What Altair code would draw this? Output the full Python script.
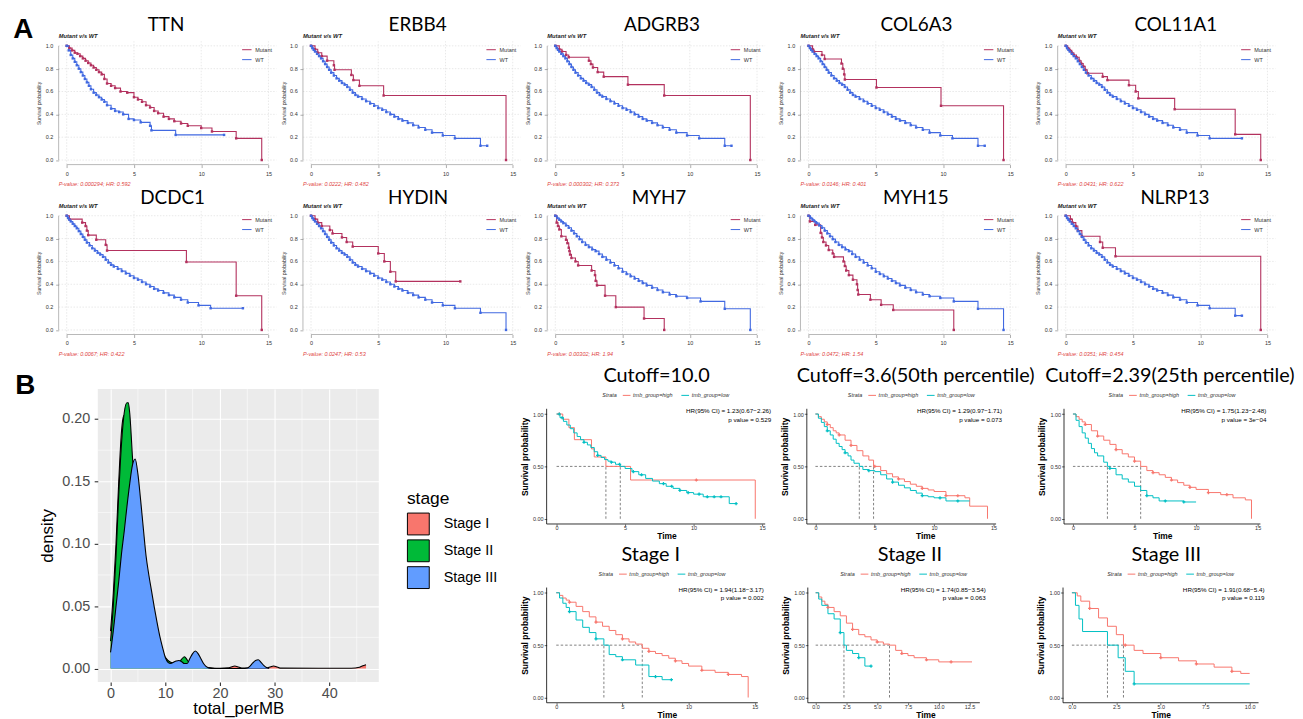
import altair as alt
import pandas as pd

FONT = "Liberation Sans"
TITLE_FONT = "Lato"
MUT_COLOR = "#B3315E"
WT_COLOR = "#4169E1"
PV_COLOR = "#E0453F"
HIGH_COLOR = "#F8766D"
LOW_COLOR = "#00BFC4"

# ---------------- Panel A data ----------------
GENES = ["TTN", "ERBB4", "ADGRB3", "COL6A3", "COL11A1",
         "DCDC1", "HYDIN", "MYH7", "MYH15", "NLRP13"]
PVALUE_TEXT = ["P-value: 0.000294; HR: 0.592", "P-value: 0.0222; HR: 0.482",
               "P-value: 0.000302; HR: 0.373", "P-value: 0.0146; HR: 0.401",
               "P-value: 0.0431; HR: 0.622", "P-value: 0.0067; HR: 0.422",
               "P-value: 0.0247; HR: 0.53", "P-value: 0.00302; HR: 1.94",
               "P-value: 0.0472; HR: 1.54", "P-value: 0.0351; HR: 0.454"]
SUBTITLE = "Mutant v/s WT"
A_X_TICKS = [0, 5, 10, 15]
A_Y_TICKS = [0, 0.2, 0.4, 0.6, 0.8, 1.0]
A_Y_LABELS = ["0.0", "0.2", "0.4", "0.6", "0.8", "1.0"]

WT_BASE_T = [0, 0.1, 0.2, 0.3, 0.45, 0.6, 0.75, 0.9, 1.05, 1.2, 1.35, 1.5, 1.7, 1.9, 2.1,
             2.3, 2.5, 2.7, 2.9, 3.1, 3.3, 3.5, 3.8, 4.1, 4.4, 4.7, 5.0, 5.3, 5.6, 5.9,
             6.2, 6.5, 6.8, 7.2, 7.6, 8.0, 8.5, 9.0, 9.8, 10.7]
WT_BASE_S = [1.0, 0.98, 0.965, 0.95, 0.93, 0.91, 0.89, 0.865, 0.84, 0.815, 0.79, 0.765, 0.74,
             0.715, 0.695, 0.675, 0.66, 0.64, 0.615, 0.59, 0.57, 0.555, 0.535, 0.515, 0.495,
             0.475, 0.455, 0.44, 0.42, 0.40, 0.38, 0.36, 0.345, 0.325, 0.305, 0.285, 0.265,
             0.24, 0.215, 0.19]
WT_TAIL_A_T, WT_TAIL_A_S = [12.6, 13.1], [0.125, 0.125]
WT_TAIL_B_T, WT_TAIL_B_S = [13.1], [0.19]
WT_TAIL_C_T, WT_TAIL_C_S = [12.6, 14.5], [0.15, 0.0]

TTN_WT_T = [0, 0.15, 0.3, 0.45, 0.6, 0.75, 0.9, 1.05, 1.2, 1.35, 1.5, 1.65, 1.8, 2.0, 2.2,
            2.4, 2.6, 2.8, 3.0, 3.3, 3.6, 3.9, 4.2, 4.6, 5.0, 5.5, 6.2, 6.3, 8.1, 11.7]
TTN_WT_S = [1.0, 0.96, 0.92, 0.89, 0.86, 0.83, 0.80, 0.77, 0.74, 0.71, 0.68, 0.65, 0.62, 0.59,
            0.57, 0.55, 0.53, 0.51, 0.48, 0.45, 0.43, 0.42, 0.40, 0.36, 0.35, 0.33, 0.30,
            0.26, 0.22, 0.22]
MYH_WT_T = [0, 0.15, 0.3, 0.45, 0.6, 0.8, 1.0, 1.2, 1.4, 1.6, 1.8, 2.0, 2.25, 2.5, 2.75, 3.0,
            3.25, 3.5, 3.8, 4.1, 4.4, 4.7, 5.0, 5.3, 5.6, 5.9, 6.2, 6.5, 6.8, 7.2, 7.6, 8.0,
            8.5, 9.0, 9.8, 10.8, 12.6, 14.5]
MYH_WT_S = [1.0, 0.98, 0.965, 0.95, 0.935, 0.915, 0.895, 0.87, 0.845, 0.82, 0.795, 0.77,
            0.745, 0.725, 0.705, 0.69, 0.665, 0.64, 0.615, 0.59, 0.565, 0.54, 0.51, 0.49,
            0.47, 0.45, 0.43, 0.41, 0.39, 0.37, 0.35, 0.33, 0.31, 0.295, 0.28, 0.25, 0.185, 0.0]

TTN_MUT_T = [0, 0.2, 0.4, 0.6, 0.8, 1.0, 1.2, 1.4, 1.6, 1.8, 2.0, 2.2, 2.4, 2.6, 2.8, 3.0,
             3.3, 3.6, 4.0, 4.5, 5.0, 5.3, 5.6, 5.9, 6.2, 6.5, 6.8, 7.2, 7.6, 8.0, 8.5, 9.0,
             10.0, 10.8, 12.6, 14.5]
TTN_MUT_S = [1.0, 0.98, 0.96, 0.94, 0.93, 0.91, 0.89, 0.87, 0.85, 0.83, 0.81, 0.79, 0.77,
             0.75, 0.71, 0.67, 0.65, 0.63, 0.60, 0.59, 0.55, 0.53, 0.51, 0.48, 0.46, 0.43,
             0.41, 0.38, 0.36, 0.34, 0.32, 0.30, 0.28, 0.25, 0.19, 0.0]
ERBB4_MUT_T = [0, 0.3, 0.5, 0.8, 1.2, 1.7, 1.75, 3.0, 3.15, 3.6, 5.4, 14.5]
ERBB4_MUT_S = [1.0, 0.97, 0.94, 0.91, 0.87, 0.83, 0.79, 0.745, 0.70, 0.65, 0.565, 0.0]
ADGRB3_MUT_T = [0, 0.3, 0.5, 0.8, 1.0, 2.5, 2.65, 2.8, 3.15, 3.6, 5.4, 8.1, 14.5]
ADGRB3_MUT_S = [1.0, 0.97, 0.95, 0.92, 0.90, 0.87, 0.84, 0.81, 0.77, 0.73, 0.66, 0.565, 0.0]
COL6A3_MUT_T = [0, 0.3, 0.4, 1.0, 1.2, 2.45, 2.55, 2.65, 2.7, 5.05, 9.85, 14.5]
COL6A3_MUT_S = [1.0, 0.97, 0.95, 0.92, 0.885, 0.845, 0.80, 0.75, 0.705, 0.635, 0.475, 0.0]
COL11A1_MUT_T = [0, 0.15, 0.3, 0.45, 0.6, 0.8, 1.0, 1.15, 1.3, 1.45, 1.6, 2.75, 3.1, 4.7,
                 5.2, 5.4, 8.1, 12.6, 14.5]
COL11A1_MUT_S = [1.0, 0.98, 0.96, 0.94, 0.92, 0.90, 0.87, 0.845, 0.82, 0.79, 0.76, 0.73,
                 0.70, 0.655, 0.60, 0.54, 0.445, 0.225, 0.0]
DCDC1_MUT_T = [0, 0.2, 1.15, 1.4, 1.5, 1.6, 2.2, 2.9, 3.0, 8.9, 12.6, 14.5]
DCDC1_MUT_S = [1.0, 0.97, 0.94, 0.91, 0.87, 0.83, 0.79, 0.745, 0.695, 0.595, 0.30, 0.0]
HYDIN_MUT_T = [0, 0.3, 0.5, 0.8, 1.4, 1.6, 2.3, 2.65, 3.1, 5.0, 5.45, 5.9, 6.3, 11.1]
HYDIN_MUT_S = [1.0, 0.97, 0.94, 0.91, 0.875, 0.845, 0.81, 0.77, 0.73, 0.67, 0.60, 0.51,
               0.425, 0.425]
MYH7_MUT_T = [0, 0.1, 0.2, 0.3, 0.45, 0.8, 0.9, 1.0, 1.05, 1.1, 1.2, 1.5, 1.7, 2.7, 2.95,
              3.0, 3.1, 3.7, 4.5, 6.6, 8.1]
MYH7_MUT_S = [1.0, 0.94, 0.91, 0.88, 0.82, 0.79, 0.76, 0.72, 0.69, 0.66, 0.63, 0.60, 0.565,
              0.52, 0.48, 0.43, 0.39, 0.30, 0.20, 0.10, 0.0]
MYH15_MUT_T = [0, 0.1, 0.5, 0.9, 1.0, 1.1, 1.3, 1.5, 1.8, 1.9, 2.6, 2.7, 2.8, 3.0, 3.3, 3.6,
               3.65, 3.7, 4.6, 5.4, 6.3, 10.8]
MYH15_MUT_S = [1.0, 0.95, 0.92, 0.85, 0.81, 0.77, 0.74, 0.70, 0.67, 0.64, 0.60, 0.56, 0.52,
               0.48, 0.44, 0.40, 0.35, 0.31, 0.265, 0.22, 0.175, 0.0]
NLRP13_MUT_T = [0, 0.35, 0.5, 0.75, 0.9, 1.2, 2.55, 2.75, 3.7, 14.5]
NLRP13_MUT_S = [1.0, 0.97, 0.94, 0.91, 0.87, 0.82, 0.77, 0.72, 0.645, 0.0]

MUT_T = [TTN_MUT_T, ERBB4_MUT_T, ADGRB3_MUT_T, COL6A3_MUT_T, COL11A1_MUT_T,
         DCDC1_MUT_T, HYDIN_MUT_T, MYH7_MUT_T, MYH15_MUT_T, NLRP13_MUT_T]
MUT_S = [TTN_MUT_S, ERBB4_MUT_S, ADGRB3_MUT_S, COL6A3_MUT_S, COL11A1_MUT_S,
         DCDC1_MUT_S, HYDIN_MUT_S, MYH7_MUT_S, MYH15_MUT_S, NLRP13_MUT_S]
WT_T = [TTN_WT_T, WT_BASE_T + WT_TAIL_A_T, WT_BASE_T + WT_TAIL_A_T, WT_BASE_T + WT_TAIL_A_T,
        WT_BASE_T + WT_TAIL_B_T, WT_BASE_T + WT_TAIL_B_T, WT_BASE_T + WT_TAIL_C_T,
        MYH_WT_T, MYH_WT_T, WT_BASE_T + WT_TAIL_A_T]
WT_S = [TTN_WT_S, WT_BASE_S + WT_TAIL_A_S, WT_BASE_S + WT_TAIL_A_S, WT_BASE_S + WT_TAIL_A_S,
        WT_BASE_S + WT_TAIL_B_S, WT_BASE_S + WT_TAIL_B_S, WT_BASE_S + WT_TAIL_C_S,
        MYH_WT_S, MYH_WT_S, WT_BASE_S + WT_TAIL_A_S]

# ---------------- Panel B density data ----------------
STAGES = ["Stage I", "Stage II", "Stage III"]
STAGE_COLORS = ["#F8766D", "#00BA38", "#619CFF"]
S1_X = [0, 0.5, 1, 1.5, 2, 2.25, 2.5, 2.75, 3, 3.5, 4, 5, 6, 7, 8, 9, 10, 11, 12, 14, 16,
        18, 20, 21.5, 22.2, 22.7, 23.2, 24, 28.5, 29.3, 29.8, 30.3, 31, 44, 45.5, 46, 46.7]
S1_Y = [0.03, 0.06, 0.10, 0.15, 0.19, 0.20, 0.203, 0.198, 0.185, 0.16, 0.13, 0.09, 0.06,
        0.04, 0.025, 0.015, 0.008, 0.004, 0.002, 0.001, 0.001, 0.0005, 0.0002, 0.0005,
        0.0015, 0.002, 0.0015, 0.0003, 0.0003, 0.0015, 0.002, 0.0015, 0.0003, 0.0002,
        0.001, 0.002, 0.003]
S2_X = [0, 0.5, 1, 1.5, 2, 2.5, 3, 3.25, 3.5, 4, 4.5, 5, 6, 7, 8, 9, 10, 10.5, 11, 11.5,
        12, 12.5, 13, 13.5, 14, 14.5, 15, 16, 17, 18, 19]
S2_Y = [0.022, 0.05, 0.09, 0.14, 0.18, 0.205, 0.213, 0.213, 0.205, 0.17, 0.135, 0.105,
        0.065, 0.04, 0.025, 0.015, 0.009, 0.0065, 0.005, 0.0045, 0.0045, 0.005, 0.0075,
        0.0095, 0.007, 0.004, 0.0025, 0.0015, 0.0015, 0.0005, 0.0]
S3_X = [0, 0.5, 1, 1.5, 2, 2.5, 3, 3.5, 4, 4.5, 5, 5.5, 6, 6.5, 7, 7.5, 8, 8.5, 9, 9.5, 10,
        10.5, 11, 11.5, 12, 12.5, 13, 13.5, 14, 14.5, 15, 15.5, 16, 16.5, 17, 17.5, 18, 19,
        24, 25, 25.5, 26, 26.5, 27, 27.5, 28, 28.5, 29]
S3_Y = [0.013, 0.03, 0.05, 0.07, 0.092, 0.11, 0.13, 0.148, 0.163, 0.168, 0.156, 0.135,
        0.112, 0.09, 0.075, 0.062, 0.049, 0.037, 0.026, 0.017, 0.009, 0.005, 0.004, 0.005,
        0.006, 0.0065, 0.0055, 0.004, 0.004, 0.008, 0.012, 0.014, 0.012, 0.008, 0.004,
        0.0015, 0.0005, 0.0, 0.0, 0.0005, 0.002, 0.0045, 0.0065, 0.007, 0.005, 0.0025,
        0.0008, 0.0]
D_X_TICKS = [0, 10, 20, 30, 40]
D_Y_TICKS = [0, 0.05, 0.10, 0.15, 0.20]
D_X_MINOR = [5, 15, 25, 35, 45]
D_Y_MINOR = [0.025, 0.075, 0.125, 0.175]

# ---------------- Panel B KM data ----------------
STRATA = ["tmb_group=high", "tmb_group=low"]
KM_TITLES = ["Cutoff=10.0", "Cutoff=3.6(50th percentile)", "Cutoff=2.39(25th percentile)",
             "Stage I", "Stage II", "Stage III"]
KM_HR = ["HR(95% CI) = 1.23(0.67\u22122.26)", "HR(95% CI) = 1.29(0.97\u22121.71)",
         "HR(95% CI) = 1.75(1.23\u22122.48)", "HR(95% CI) = 1.94(1.18\u22123.17)",
         "HR(95% CI) = 1.74(0.85\u22123.54)", "HR(95% CI) = 1.91(0.68\u22125.4)"]
KM_P = ["p value = 0.529", "p value = 0.073", "p value = 3e\u221204",
        "p value = 0.002", "p value = 0.063", "p value = 0.119"]
KM_XMAX = [14.5, 14.5, 14.5, 14.5, 12.7, 10.0]
KM_XTICKS = [[0, 5, 10, 15], [0, 5, 10, 15], [0, 5, 10, 15], [0, 5, 10, 15],
             [0, 2.5, 5, 7.5, 10, 12.5], [0, 2.5, 5, 7.5, 10]]
KM_XFMT = ["d", "d", "d", "d", ".1f", ".1f"]

KM1_HIGH_T = [0, 0.45, 0.9, 1.3, 2.55, 2.75, 3.6, 5.4, 14.5]
KM1_HIGH_S = [1.0, 0.95, 0.87, 0.755, 0.667, 0.59, 0.50, 0.37, 0.0]
KM1_LOW_T = [0, 0.25, 0.5, 0.75, 1, 1.25, 1.5, 1.75, 2, 2.25, 2.5, 2.75, 3, 3.25, 3.5, 3.75,
             4, 4.3, 4.65, 5, 5.5, 6, 6.5, 7, 7.5, 8, 8.5, 9, 9.5, 10, 10.7, 12.6, 13.1]
KM1_LOW_S = [1.0, 0.965, 0.93, 0.895, 0.86, 0.82, 0.785, 0.755, 0.73, 0.705, 0.68, 0.64,
             0.605, 0.585, 0.565, 0.55, 0.54, 0.52, 0.50, 0.48, 0.45, 0.42, 0.385, 0.36,
             0.335, 0.31, 0.29, 0.27, 0.25, 0.235, 0.21, 0.145, 0.145]
KM2_HIGH_T = [0, 0.25, 0.5, 0.75, 1, 1.25, 1.5, 1.75, 2, 2.5, 3, 3.5, 4, 4.5, 4.9, 5.5, 6,
              6.5, 7, 7.5, 8, 8.5, 9, 9.5, 10, 11, 12.6, 13.0, 14.5]
KM2_HIGH_S = [1.0, 0.975, 0.95, 0.925, 0.90, 0.87, 0.84, 0.82, 0.80, 0.75, 0.70, 0.65, 0.60,
              0.56, 0.50, 0.46, 0.43, 0.40, 0.38, 0.355, 0.33, 0.31, 0.29, 0.275, 0.26,
              0.22, 0.20, 0.12, 0.0]
KM2_LOW_T = [0, 0.25, 0.5, 0.75, 1, 1.25, 1.5, 1.75, 2, 2.25, 2.5, 2.75, 3, 3.25, 3.7, 4,
             4.5, 5, 5.5, 6, 6.5, 7, 7.5, 8, 8.5, 9, 9.5, 10, 11, 13.0]
KM2_LOW_S = [1.0, 0.96, 0.92, 0.88, 0.84, 0.80, 0.76, 0.72, 0.69, 0.66, 0.63, 0.60, 0.56,
             0.53, 0.50, 0.47, 0.46, 0.45, 0.42, 0.38, 0.35, 0.32, 0.295, 0.27, 0.245, 0.22,
             0.21, 0.20, 0.17, 0.17]
KM3_HIGH_T = [0, 0.25, 0.5, 0.75, 1, 1.5, 2, 2.5, 3, 3.5, 4, 4.5, 5, 5.5, 6, 6.5, 7, 7.5, 8,
              8.5, 9, 9.5, 10, 11, 12, 13, 14, 14.5]
KM3_HIGH_S = [1.0, 0.975, 0.95, 0.925, 0.90, 0.84, 0.79, 0.75, 0.71, 0.66, 0.62, 0.59, 0.55,
              0.50, 0.46, 0.44, 0.42, 0.395, 0.37, 0.345, 0.32, 0.30, 0.28, 0.25, 0.23, 0.20,
              0.18, 0.0]
KM3_LOW_T = [0, 0.25, 0.5, 0.75, 1, 1.25, 1.5, 1.75, 2, 2.5, 2.8, 3, 3.5, 4, 4.5, 5, 5.5, 6,
             6.5, 7, 9, 10]
KM3_LOW_S = [1.0, 0.94, 0.88, 0.82, 0.77, 0.72, 0.67, 0.63, 0.60, 0.54, 0.50, 0.48, 0.42,
             0.38, 0.35, 0.31, 0.27, 0.22, 0.20, 0.17, 0.16, 0.16]
KM4_HIGH_T = [0, 0.25, 0.5, 0.75, 1, 1.5, 2, 2.5, 3, 3.5, 4, 4.5, 5, 5.5, 6, 6.5, 7, 7.5, 8,
              8.5, 9, 9.5, 10, 11, 12, 13, 14, 14.5]
KM4_HIGH_S = [1.0, 0.975, 0.95, 0.93, 0.91, 0.87, 0.82, 0.77, 0.72, 0.68, 0.64, 0.60, 0.56,
              0.53, 0.51, 0.47, 0.44, 0.42, 0.40, 0.375, 0.35, 0.325, 0.30, 0.26, 0.24, 0.22,
              0.20, 0.0]
KM4_LOW_T = [0, 0.25, 0.5, 0.75, 1, 1.5, 2, 2.5, 3, 3.6, 4, 4.5, 5, 6, 7, 8, 8.7]
KM4_LOW_S = [1.0, 0.95, 0.90, 0.86, 0.82, 0.74, 0.67, 0.62, 0.56, 0.50, 0.41, 0.39, 0.36,
             0.31, 0.20, 0.17, 0.17]
KM5_HIGH_T = [0, 0.25, 0.5, 0.75, 1, 1.5, 2, 2.5, 3, 3.5, 4, 4.5, 5, 5.5, 6, 6.5, 7, 7.5, 8,
              9, 10, 12.7]
KM5_HIGH_S = [1.0, 0.96, 0.92, 0.89, 0.86, 0.82, 0.78, 0.71, 0.65, 0.60, 0.58, 0.55, 0.53,
              0.51, 0.50, 0.45, 0.42, 0.40, 0.38, 0.36, 0.34, 0.34]
KM5_LOW_T = [0, 0.25, 0.5, 1, 1.5, 2, 2.3, 2.5, 3, 3.5, 4, 4.5]
KM5_LOW_S = [1.0, 0.94, 0.88, 0.80, 0.75, 0.62, 0.50, 0.45, 0.42, 0.38, 0.30, 0.30]
KM6_HIGH_T = [0, 0.3, 0.5, 1, 1.5, 2, 2.5, 2.9, 3.5, 4, 5, 6, 7, 8, 9, 9.5, 10]
KM6_HIGH_S = [1.0, 0.97, 0.92, 0.85, 0.76, 0.68, 0.60, 0.50, 0.45, 0.42, 0.38, 0.35, 0.32,
              0.29, 0.25, 0.23, 0.23]
KM6_LOW_T = [0, 0.2, 0.4, 0.6, 2.0, 2.6, 3.0, 3.5, 10]
KM6_LOW_S = [1.0, 0.88, 0.75, 0.63, 0.50, 0.38, 0.25, 0.13, 0.13]

KM_HIGH_T = [KM1_HIGH_T, KM2_HIGH_T, KM3_HIGH_T, KM4_HIGH_T, KM5_HIGH_T, KM6_HIGH_T]
KM_HIGH_S = [KM1_HIGH_S, KM2_HIGH_S, KM3_HIGH_S, KM4_HIGH_S, KM5_HIGH_S, KM6_HIGH_S]
KM_LOW_T = [KM1_LOW_T, KM2_LOW_T, KM3_LOW_T, KM4_LOW_T, KM5_LOW_T, KM6_LOW_T]
KM_LOW_S = [KM1_LOW_S, KM2_LOW_S, KM3_LOW_S, KM4_LOW_S, KM5_LOW_S, KM6_LOW_S]
KM_CENS_HIGH = [[0.2, 10.2], [1.0, 2.0, 3.0, 5.0, 7.0, 9.0, 11.0, 12.0],
                [1.0, 2.0, 3.5, 5.0, 6.5, 8.0, 9.5, 11.0, 12.5],
                [1.0, 3.0, 5.0, 7.0, 9.0, 11.0, 13.0], [1.0, 3.0, 5.0, 7.0, 9.0, 11.0],
                [1.0, 3.0, 5.0, 7.0, 9.0]]
KM_CENS_LOW = [[0.2, 0.4, 2.0, 3.0, 4.0, 4.6, 5.6, 6.2, 7.8, 8.4, 9.0, 9.6, 10.4, 11.0,
                11.5, 12.0, 13.1],
               [1.0, 2.5, 4.5, 6.5, 9.0, 10.5, 12.0], [3.0, 6.0, 7.5, 9.0],
               [1.0, 3.0, 5.0, 7.5, 8.7], [2.0, 3.5, 4.5], [3.5]]
KM_MEDIANS = [[3.6, 4.65], [4.9, 3.7], [5.5, 2.8], [6.5, 3.6], [6.0, 2.3], [2.9, 2.0]]

# ---------------- layout constants ----------------
A_H = 124.2
A_PW = 219.4
A_XLO, A_XHI = -0.6, 15.6
A_YLO, A_YHI = -0.04, 1.04
A_SLOTS = [225.6, 226.0, 235.0, 238.4, 219.4]
A_TITLE_DX = [-4.7, 2.5, -2.0, -2.4, 9.2, 2.0, 3.0, -5.0, -3.0, 8.4]

KM_H = 116
KM_TOP = 20
KM_YLO, KM_YHI = -0.05, 1.05
KM_PPU = [13.8, 11.95, 12.4, 13.33, 12.4, 17.9]
KM_SLOT = [241.4, 238.6, 0, 242.1, 236.9, 0]
KM_TITLE_DX = [-10.0, -9.7, 7.7, -16.2, -15.6, 5.5]

D_W, D_H = 283, 295
D_XDOM = [-2.335, 49.035]
D_YDOM = [-0.0107, 0.2241]

ONE = pd.DataFrame({"k": [0]})


def step_df(t, s, grp):
    return pd.DataFrame({"time": list(t), "surv": list(s), "grp": grp})


def surv_at(ts, ss, t):
    v = ss[0]
    for ti, si in zip(ts, ss):
        if ti <= t:
            v = si
    return v


def frame(x1, x2, y1, y2):
    return alt.Chart(ONE).mark_rect(opacity=0).encode(
        x=alt.value(x1), x2=alt.value(x2), y=alt.value(y1), y2=alt.value(y2))


def label(txt, x, y, **kw):
    return alt.Chart(pd.DataFrame({"txt": [txt]})).mark_text(**kw).encode(
        x=alt.value(x), y=alt.value(y), text="txt:N")


def indep(ch):
    return ch.resolve_scale(color="independent")


def a_panel(i):
    col, row = i % 5, i // 5
    slot = A_SLOTS[col]
    xmax = A_XLO + (A_XHI - A_XLO) * slot / A_PW
    xsc = alt.Scale(domain=[A_XLO, xmax], nice=False, zero=False)
    ysc = alt.Scale(domain=[A_YLO, A_YHI], nice=False, zero=False)
    xenc = alt.X("time:Q", scale=xsc, axis=alt.Axis(
        values=A_X_TICKS, format="d", domain=False, grid=False, tickSize=3,
        tickColor="#777777", tickWidth=0.6, labelFontSize=5.5, labelColor="#333333",
        labelPadding=3.5, labelFont=FONT, labelOverlap=False, title=None))
    yenc = alt.Y("surv:Q", scale=ysc, axis=alt.Axis(
        values=A_Y_TICKS, domain=False, grid=False, tickSize=3,
        tickColor="#777777", tickWidth=0.6, labels=False,
        title="Survival probability",
        titleFontSize=5.2, titleFontWeight="normal", titleColor="#333333",
        titleFont=FONT, titlePadding=13.7))
    color = alt.Color("grp:N", scale=alt.Scale(domain=["Mutant", "WT"],
                                               range=[MUT_COLOR, WT_COLOR]),
                      legend=alt.Legend(title=None, orient="none", legendX=184,
                                        legendY=3, direction="vertical",
                                        symbolType="stroke", symbolSize=90,
                                        symbolStrokeWidth=1, labelFontSize=5.5,
                                        labelFont=FONT, labelColor="#333333",
                                        rowPadding=1, labelOffset=3, padding=0))
    df = pd.concat([step_df(MUT_T[i], MUT_S[i], "Mutant"),
                    step_df(WT_T[i], WT_S[i], "WT")])
    gridv = alt.Chart(pd.DataFrame({"time": A_X_TICKS})).mark_rule(
        color="#DADADA", strokeDash=[1.5, 1.5], strokeWidth=0.6).encode(
        x=xenc, y=alt.datum(A_YLO), y2=alt.datum(A_YHI))
    gridh = alt.Chart(pd.DataFrame({"surv": A_Y_TICKS})).mark_rule(
        color="#DADADA", strokeDash=[1.5, 1.5], strokeWidth=0.6).encode(
        y=yenc, x=alt.datum(A_XLO), x2=alt.datum(A_XHI))
    ylabs = alt.Chart(pd.DataFrame({"surv": A_Y_TICKS, "lab": A_Y_LABELS})).mark_text(
        align="right", baseline="middle", fontSize=5.5, font=FONT, color="#333333").encode(
        y=yenc, x=alt.value(-5.3), text="lab:N")
    axx = alt.Chart(ONE).mark_rule(color="#888888", strokeWidth=0.6).encode(
        x=alt.datum(A_X_TICKS[0]), x2=alt.datum(A_X_TICKS[-1]), y=alt.datum(A_YLO))
    axy = alt.Chart(ONE).mark_rule(color="#888888", strokeWidth=0.6).encode(
        x=alt.datum(A_XLO), y=alt.datum(A_Y_TICKS[0]), y2=alt.datum(A_Y_TICKS[-1]))
    lines = alt.Chart(df).mark_line(interpolate="step-after", strokeWidth=1.1).encode(
        x=xenc, y=yenc, color=color)
    pts = alt.Chart(df).mark_point(shape="square", filled=True, size=6, opacity=1).encode(
        x=xenc, y=yenc, color=color)
    title = label(GENES[i], slot / 2 + A_TITLE_DX[i], (-10.4 if row == 0 else -7.0),
                  align="center", baseline="alphabetic", fontSize=19, font=TITLE_FONT,
                  color="black")
    sub = label(SUBTITLE, 0, -3.5, align="left", baseline="alphabetic", fontSize=5.8,
                fontWeight="bold", fontStyle="italic", font=FONT, color="#222222")
    pv = label(PVALUE_TEXT[i], 0, A_H + 19.3, align="left", baseline="middle",
               fontSize=5.5, fontStyle="italic", font=FONT, color=PV_COLOR)
    layers = [gridv, gridh, axx, axy, lines, pts, ylabs, title, sub, pv]
    if col == 0:
        layers.append(frame(-50.6, 0, -30.7, A_H + 30))
    if i == 0:
        layers.append(label("A", -45.6, -3.7, align="left", baseline="alphabetic",
                            fontSize=28, fontWeight="bold", font=FONT, color="black"))
    return alt.layer(*layers).properties(width=slot, height=A_H)


def density_panel():
    xsc = alt.Scale(domain=D_XDOM, nice=False, zero=False)
    ysc = alt.Scale(domain=D_YDOM, nice=False, zero=False)
    xenc = alt.X("x:Q", scale=xsc, axis=alt.Axis(
        values=D_X_TICKS, format="d", grid=True, gridColor="white", gridWidth=1.1,
        domain=False, tickColor="#333333", tickSize=3.6, tickWidth=1.1,
        labelFontSize=14.5, labelColor="#4D4D4D", labelPadding=1, labelFont=FONT,
        title="total_perMB", titleFontSize=17, titleFontWeight="normal",
        titleColor="black", titleFont=FONT, titlePadding=1))
    yenc = alt.Y("y:Q", scale=ysc, axis=alt.Axis(
        values=D_Y_TICKS, format=".2f", grid=True, gridColor="white", gridWidth=1.1,
        domain=False, tickColor="#333333", tickSize=3.6, tickWidth=1.1,
        labelFontSize=14.5, labelColor="#4D4D4D", labelPadding=4.4, labelFont=FONT,
        labelOverlap=False, title="density", titleFontSize=17, titleFontWeight="normal",
        titleColor="black", titleFont=FONT, titlePadding=5))
    color = alt.Color("stage:N", scale=alt.Scale(domain=STAGES, range=STAGE_COLORS),
                      legend=alt.Legend(title="stage", orient="none", legendX=311.3,
                                        legendY=102, symbolType="square",
                                        symbolSize=484, symbolStrokeColor="black",
                                        symbolStrokeWidth=1, symbolOpacity=1,
                                        titleFontSize=17.5, titleFontWeight="normal",
                                        titleFont=FONT, titleColor="black",
                                        labelFontSize=14.5, labelFont=FONT,
                                        labelColor="black", labelOffset=14,
                                        rowPadding=0, titlePadding=5, padding=0))
    minx = alt.Chart(pd.DataFrame({"x": D_X_MINOR})).mark_rule(
        color="white", strokeWidth=0.55).encode(
        x=xenc, y=alt.datum(D_YDOM[0]), y2=alt.datum(D_YDOM[1]))
    miny = alt.Chart(pd.DataFrame({"y": D_Y_MINOR})).mark_rule(
        color="white", strokeWidth=0.55).encode(
        y=yenc, x=alt.datum(D_XDOM[0]), x2=alt.datum(D_XDOM[1]))
    layers = [minx, miny]
    for name, xs, ys in zip(STAGES, [S1_X, S2_X, S3_X], [S1_Y, S2_Y, S3_Y]):
        d = pd.DataFrame({"x": xs, "y": ys, "stage": name})
        layers.append(alt.Chart(d).mark_area(interpolate="monotone", opacity=1).encode(
            x=xenc, y=yenc, y2=alt.datum(0), color=color))
        layers.append(alt.Chart(d).mark_line(interpolate="monotone", color="black",
                                             strokeWidth=1.1).encode(x=xenc, y=yenc))
    layers.append(label("B", -83, 5, align="left", baseline="alphabetic", fontSize=28,
                        fontWeight="bold", font=FONT, color="black"))
    layers.append(frame(-90, 420, -40, D_H + 30))
    return alt.layer(*layers).properties(
        width=D_W, height=D_H,
        view=alt.ViewBackground(fill="#EBEBEB", stroke=None))


def km_panel(j):
    xmax, ppu = KM_XMAX[j], KM_PPU[j]
    xlo, xhi = -0.05 * xmax, 1.05 * xmax
    pw = (xhi - xlo) * ppu
    slot = KM_SLOT[j] if KM_SLOT[j] else pw
    ppy = KM_H / (KM_YHI - KM_YLO)
    xsc = alt.Scale(domain=[xlo, xlo + slot / ppu], nice=False, zero=False)
    ysc = alt.Scale(domain=[KM_YLO, KM_YHI + KM_TOP / ppy], nice=False, zero=False)
    xenc = alt.X("time:Q", scale=xsc, axis=alt.Axis(
        values=KM_XTICKS[j], format=KM_XFMT[j], domain=False, grid=False, tickSize=2,
        tickColor="black", tickWidth=0.6, labelFontSize=5.5, labelColor="#333333",
        labelPadding=0, labelFont=FONT, labelOverlap=False, title="Time",
        titleFontSize=8.5, titleFontWeight="bold", titleColor="black", titleFont=FONT,
        titlePadding=0.5))
    yenc = alt.Y("surv:Q", scale=ysc, axis=alt.Axis(
        values=[0, 0.25, 0.5, 0.75, 1], format=".2f", domain=False, grid=False,
        tickSize=2.5, tickColor="black", tickWidth=0.6, labelFontSize=5.5,
        labelColor="#333333", labelPadding=1, labelFont=FONT, labelOverlap=False,
        title="Survival probability", titleFontSize=8.5, titleFontWeight="bold",
        titleColor="black", titleFont=FONT, titlePadding=3))
    color = alt.Color("grp:N", scale=alt.Scale(domain=STRATA,
                                               range=[HIGH_COLOR, LOW_COLOR]),
                      legend=alt.Legend(title="Strata", titleOrient="left", orient="none",
                                        direction="horizontal", legendX=pw / 2 - 54,
                                        legendY=KM_TOP - 18, symbolType="stroke",
                                        symbolSize=60, symbolStrokeWidth=1,
                                        labelFontSize=5.5, labelFontStyle="italic",
                                        labelFont=FONT, labelColor="#333333",
                                        titleFontSize=5.5, titleFontStyle="italic",
                                        titleFontWeight="normal", titleFont=FONT,
                                        titleColor="#333333", columnPadding=6,
                                        labelOffset=2, padding=0))
    df = pd.concat([step_df(KM_HIGH_T[j], KM_HIGH_S[j], STRATA[0]),
                    step_df(KM_LOW_T[j], KM_LOW_S[j], STRATA[1])])
    cens = pd.concat([
        step_df(KM_CENS_HIGH[j], [surv_at(KM_HIGH_T[j], KM_HIGH_S[j], t)
                                  for t in KM_CENS_HIGH[j]], STRATA[0]),
        step_df(KM_CENS_LOW[j], [surv_at(KM_LOW_T[j], KM_LOW_S[j], t)
                                 for t in KM_CENS_LOW[j]], STRATA[1])])
    axx = alt.Chart(ONE).mark_rule(color="black", strokeWidth=0.8).encode(
        x=alt.datum(xlo), x2=alt.datum(xhi), y=alt.datum(KM_YLO))
    axy = alt.Chart(ONE).mark_rule(color="black", strokeWidth=0.8).encode(
        x=alt.datum(xlo), y=alt.datum(KM_YLO), y2=alt.datum(KM_YHI))
    med = KM_MEDIANS[j]
    mh = alt.Chart(pd.DataFrame({"time": [0.0], "t2": [max(med)], "surv": [0.5]})).mark_rule(
        color="black", strokeDash=[2.5, 2], strokeWidth=0.5).encode(
        x=xenc, x2="t2:Q", y=yenc)
    mv = alt.Chart(pd.DataFrame({"time": med})).mark_rule(
        color="black", strokeDash=[2.5, 2], strokeWidth=0.5).encode(
        x=xenc, y=alt.datum(0), y2=alt.datum(0.5))
    lines = alt.Chart(df).mark_line(interpolate="step-after", strokeWidth=1).encode(
        x=xenc, y=yenc, color=color)
    pts = alt.Chart(cens).mark_point(shape="cross", filled=True, size=10, opacity=1).encode(
        x=xenc, y=yenc, color=color)
    hr = label(KM_HR[j], pw + 6, KM_TOP + 2, align="right", baseline="middle",
               fontSize=6.3, font=FONT, color="black")
    pv = label(KM_P[j], pw + 6, KM_TOP + 11, align="right", baseline="middle",
               fontSize=6.3, font=FONT, color="black")
    title = label(KM_TITLES[j], slot / 2 + KM_TITLE_DX[j], KM_TOP - 27, align="center",
                  baseline="alphabetic", fontSize=20, font=TITLE_FONT, color="black")
    layers = [axx, axy, mh, mv, lines, pts, hr, pv, title]
    if j == 0:
        layers.append(frame(-42, 0, -40, KM_H + KM_TOP + 22))
    if j == 3:
        layers.append(frame(-42, 0, -30, KM_H + KM_TOP + 16))
    return alt.layer(*layers).properties(width=slot, height=KM_H + KM_TOP)


spacer = alt.Chart(ONE).mark_rect(opacity=0).encode(
    x=alt.value(0), x2=alt.value(1), y=alt.value(0), y2=alt.value(1)
).properties(width=1, height=1)

rowA1 = indep(alt.hconcat(*[a_panel(i) for i in range(5)], spacing=20, bounds="flush"))
rowA2 = indep(alt.hconcat(*[a_panel(i) for i in range(5, 10)], spacing=20, bounds="flush"))
topA = indep(alt.vconcat(rowA1, rowA2, spacing=-14.9))

rowB1 = indep(alt.hconcat(*[km_panel(j) for j in range(3)], spacing=20, bounds="flush"))
rowB2 = indep(alt.hconcat(*[km_panel(j) for j in range(3, 6)], spacing=20, bounds="flush"))
gridKM = indep(alt.vconcat(rowB1, rowB2, spacing=-8))
inner = indep(alt.hconcat(density_panel(), gridKM, spacing=-10))
rowB = indep(alt.hconcat(spacer, inner, spacing=-51.6))

chart = indep(alt.vconcat(topA, rowB, spacing=-15.9)).properties(
    padding=0, background="white"
).configure(font=FONT).configure_view(stroke=None)

chart.save("out.html", embed_options={"renderer": "svg", "actions": False})
